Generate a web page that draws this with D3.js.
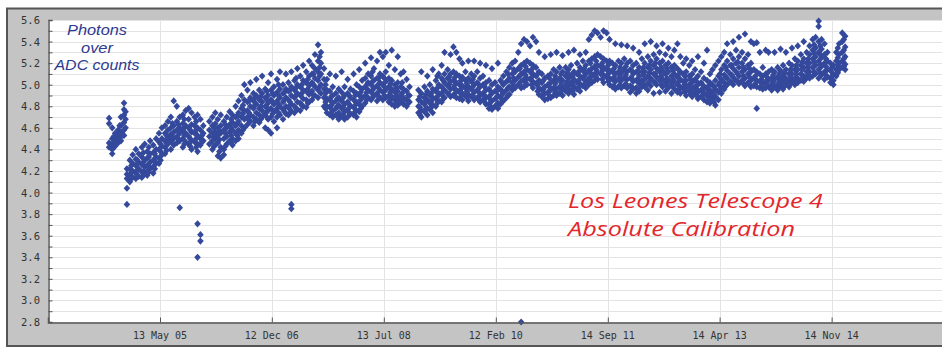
<!DOCTYPE html>
<html>
<head>
<meta charset="utf-8">
<script src="https://cdnjs.cloudflare.com/ajax/libs/d3/7.8.5/d3.min.js"></script>
<style>
  html, body { margin: 0; padding: 0; background: #ffffff; }
  svg { display: block; }
</style>
</head>
<body>
<svg id="chart" width="942" height="347"></svg>
<script>
// ---------------- DATA ----------------
const yTicks = [2.8, 3.0, 3.2, 3.4, 3.6, 3.8, 4.0, 4.2, 4.4, 4.6, 4.8, 5.0, 5.2, 5.4, 5.6];
const xTickDates = ["2005-05-13", "2006-12-12", "2008-07-13", "2010-02-12", "2011-09-14", "2013-04-14", "2014-11-14"];
const xDomain = ["2003-10-12", "2016-06-17"];
const noteLines = ["Photons", "over", "ADC counts"];
const titleLines = ["Los Leones Telescope 4", "Absolute Calibration"];

// [observation date, photons / ADC count values measured around that date]
const obs2004 = [
  ["2004-08-23", [4.69, 4.64, 4.46, 4.42]],
  ["2004-09-08", [4.60, 4.50, 4.45, 4.40, 4.36]],
  ["2004-09-23", [4.55, 4.50, 4.47, 4.43]],
  ["2004-10-08", [4.58, 4.52, 4.49, 4.46]],
  ["2004-10-23", [4.70, 4.62, 4.56, 4.52, 4.48]],
  ["2004-11-08", [4.83, 4.77, 4.72, 4.65, 4.58, 4.53]],
  ["2004-11-23", [4.22, 4.17, 4.13, 4.04, 3.89]],
  ["2004-12-08", [4.30, 4.22, 4.16, 4.12, 4.10]],
  ["2004-12-23", [4.35, 4.27, 4.20, 4.14]]
];
const obs2005 = [
  ["2005-01-08", [4.40, 4.31, 4.25, 4.18, 4.13]],
  ["2005-01-23", [4.36, 4.28, 4.22, 4.15]],
  ["2005-02-08", [4.42, 4.33, 4.26, 4.19, 4.14]],
  ["2005-02-23", [4.45, 4.30, 4.24, 4.17]],
  ["2005-03-08", [4.38, 4.32, 4.25, 4.20, 4.16]],
  ["2005-03-23", [4.48, 4.36, 4.28, 4.22]],
  ["2005-04-08", [4.44, 4.37, 4.30, 4.24, 4.18]],
  ["2005-04-23", [4.50, 4.40, 4.33, 4.27]],
  ["2005-05-08", [4.55, 4.47, 4.40, 4.32, 4.27]],
  ["2005-05-23", [4.60, 4.50, 4.43, 4.35]],
  ["2005-06-08", [4.62, 4.55, 4.48, 4.42, 4.36]],
  ["2005-06-23", [4.66, 4.58, 4.51, 4.45]],
  ["2005-07-08", [4.70, 4.60, 4.54, 4.48, 4.40]],
  ["2005-07-23", [4.85, 4.62, 4.56, 4.50, 4.44]],
  ["2005-08-08", [4.80, 4.66, 4.58, 4.52, 4.46]],
  ["2005-08-23", [4.70, 4.60, 4.55, 4.48, 3.86]],
  ["2005-09-08", [4.72, 4.64, 4.57, 4.50, 4.42]],
  ["2005-09-23", [4.76, 4.62, 4.55, 4.47]],
  ["2005-10-08", [4.78, 4.68, 4.60, 4.52, 4.45]],
  ["2005-10-23", [4.74, 4.63, 4.56, 4.48, 4.40]],
  ["2005-11-08", [4.70, 4.62, 4.55, 4.47]],
  ["2005-11-23", [4.72, 4.60, 4.53, 4.45, 4.38, 3.71, 3.40]],
  ["2005-12-08", [4.68, 4.58, 4.50, 4.44, 3.61, 3.55]],
  ["2005-12-23", [4.62, 4.55, 4.48]]
];
const obs2006 = [
  ["2006-01-23", [4.66, 4.58, 4.52, 4.45]],
  ["2006-02-08", [4.70, 4.62, 4.55, 4.48, 4.40]],
  ["2006-02-23", [4.74, 4.64, 4.56, 4.50, 4.44]],
  ["2006-03-08", [4.68, 4.60, 4.53, 4.46, 4.34]],
  ["2006-03-23", [4.72, 4.62, 4.55, 4.42, 4.32]],
  ["2006-04-08", [4.66, 4.58, 4.50, 4.40, 4.35]],
  ["2006-04-23", [4.70, 4.60, 4.52, 4.45]],
  ["2006-05-08", [4.75, 4.63, 4.56, 4.48]],
  ["2006-05-23", [4.72, 4.65, 4.58, 4.50, 4.44]],
  ["2006-06-08", [4.80, 4.70, 4.62, 4.55, 4.48]],
  ["2006-06-23", [4.85, 4.74, 4.66, 4.58, 4.50]],
  ["2006-07-08", [4.90, 4.78, 4.70, 4.62, 4.55]],
  ["2006-07-23", [5.00, 4.86, 4.76, 4.68, 4.60]],
  ["2006-08-08", [4.95, 4.84, 4.76, 4.70, 4.63]],
  ["2006-08-23", [5.02, 4.88, 4.80, 4.72, 4.66]],
  ["2006-09-08", [4.92, 4.85, 4.78, 4.70, 4.62]],
  ["2006-09-23", [5.05, 4.90, 4.82, 4.74, 4.68]],
  ["2006-10-08", [4.95, 4.86, 4.78, 4.72, 4.65]],
  ["2006-10-23", [5.08, 4.92, 4.84, 4.76, 4.70]],
  ["2006-11-08", [4.96, 4.88, 4.80, 4.73, 4.60]],
  ["2006-11-23", [5.02, 4.90, 4.83, 4.76, 4.68, 4.58]],
  ["2006-12-08", [5.10, 4.95, 4.86, 4.78, 4.70, 4.55]],
  ["2006-12-23", [4.98, 4.90, 4.82, 4.75, 4.66]]
];
const obs2007 = [
  ["2007-01-08", [5.05, 4.93, 4.85, 4.78, 4.70, 4.60]],
  ["2007-01-23", [5.12, 4.96, 4.88, 4.80, 4.72]],
  ["2007-02-08", [5.00, 4.92, 4.84, 4.77, 4.68]],
  ["2007-02-23", [5.10, 4.96, 4.88, 4.80, 4.73]],
  ["2007-03-08", [5.02, 4.94, 4.86, 4.79, 4.72]],
  ["2007-03-23", [5.12, 4.98, 4.90, 4.82, 4.75, 3.89, 3.85]],
  ["2007-04-08", [5.04, 4.95, 4.88, 4.80, 4.74]],
  ["2007-04-23", [5.15, 5.00, 4.92, 4.84, 4.77]],
  ["2007-05-08", [5.08, 4.98, 4.90, 4.83, 4.76]],
  ["2007-05-23", [5.18, 5.04, 4.95, 4.87, 4.80]],
  ["2007-06-08", [5.12, 5.02, 4.94, 4.86, 4.79]],
  ["2007-06-23", [5.22, 5.08, 4.99, 4.91, 4.84]],
  ["2007-07-08", [5.18, 5.10, 5.02, 4.94, 4.86]],
  ["2007-07-23", [5.28, 5.15, 5.06, 4.98, 4.90]],
  ["2007-08-08", [5.37, 5.22, 5.12, 5.04, 4.95, 4.88]],
  ["2007-08-23", [5.30, 5.20, 5.10, 5.00, 4.92]],
  ["2007-09-08", [5.15, 5.05, 4.96, 4.88, 4.80]],
  ["2007-09-23", [5.05, 4.95, 4.87, 4.80, 4.74]],
  ["2007-10-08", [5.10, 4.94, 4.86, 4.79, 4.72]],
  ["2007-10-23", [4.98, 4.90, 4.83, 4.76, 4.70]],
  ["2007-11-08", [5.08, 4.92, 4.85, 4.78, 4.72]],
  ["2007-11-23", [4.96, 4.88, 4.81, 4.74, 4.68]],
  ["2007-12-08", [5.12, 4.93, 4.85, 4.78, 4.71]],
  ["2007-12-23", [4.98, 4.90, 4.82, 4.75, 4.68]]
];
const obs2008 = [
  ["2008-01-08", [5.05, 4.92, 4.84, 4.77, 4.70]],
  ["2008-01-23", [4.96, 4.88, 4.80, 4.73]],
  ["2008-02-08", [5.10, 4.94, 4.86, 4.79, 4.72]],
  ["2008-02-23", [5.00, 4.92, 4.84, 4.76, 4.70]],
  ["2008-03-08", [5.14, 4.98, 4.90, 4.82, 4.75]],
  ["2008-03-23", [5.04, 4.96, 4.88, 4.80]],
  ["2008-04-08", [5.20, 5.06, 4.98, 4.90, 4.83]],
  ["2008-04-23", [5.10, 5.02, 4.95, 4.88]],
  ["2008-05-08", [5.25, 5.08, 5.00, 4.93, 4.86]],
  ["2008-05-23", [5.15, 5.04, 4.97, 4.90]],
  ["2008-06-08", [5.22, 5.06, 4.99, 4.92, 4.85]],
  ["2008-06-23", [5.30, 5.10, 5.02, 4.95, 4.88]],
  ["2008-07-08", [5.26, 5.08, 5.00, 4.93, 4.86]],
  ["2008-07-23", [5.30, 5.12, 5.03, 4.95, 4.88]],
  ["2008-08-08", [5.18, 5.06, 4.98, 4.90, 4.84]],
  ["2008-08-23", [5.32, 5.04, 4.96, 4.89, 4.82]],
  ["2008-09-08", [5.14, 5.00, 4.93, 4.86, 4.80]],
  ["2008-09-23", [5.26, 5.02, 4.94, 4.87, 4.81]],
  ["2008-10-08", [5.10, 4.98, 4.90, 4.84]],
  ["2008-10-23", [5.12, 4.96, 4.88, 4.82]],
  ["2008-11-08", [5.05, 4.94, 4.86, 4.80]],
  ["2008-11-23", [4.98, 4.90, 4.84]]
];
const obs2009 = [
  ["2009-01-08", [4.95, 4.86, 4.80, 4.74]],
  ["2009-01-23", [5.12, 4.92, 4.84, 4.76, 4.70]],
  ["2009-02-08", [4.98, 4.88, 4.82, 4.75]],
  ["2009-02-23", [5.08, 4.94, 4.86, 4.78, 4.72]],
  ["2009-03-08", [5.00, 4.90, 4.83, 4.77]],
  ["2009-03-23", [5.14, 4.96, 4.88, 4.81, 4.74]],
  ["2009-04-08", [5.04, 4.94, 4.87, 4.80]],
  ["2009-04-23", [5.10, 5.00, 4.92, 4.85]],
  ["2009-05-08", [5.18, 5.06, 4.98, 4.91, 4.84]],
  ["2009-05-23", [5.30, 5.10, 5.02, 4.95, 4.88]],
  ["2009-06-08", [5.14, 5.06, 4.99, 4.92]],
  ["2009-06-23", [5.28, 5.10, 5.03, 4.96, 4.89]],
  ["2009-07-08", [5.35, 5.12, 5.04, 4.97, 4.90]],
  ["2009-07-23", [5.30, 5.10, 5.02, 4.95, 4.88]],
  ["2009-08-08", [5.24, 5.08, 5.00, 4.93, 4.87]],
  ["2009-08-23", [5.20, 5.07, 4.99, 4.92, 4.86]],
  ["2009-09-08", [5.12, 5.04, 4.97, 4.90]],
  ["2009-09-23", [5.22, 5.06, 4.98, 4.91, 4.85]],
  ["2009-10-08", [5.10, 5.03, 4.96, 4.89]],
  ["2009-10-23", [5.22, 5.08, 5.00, 4.93, 4.86]],
  ["2009-11-08", [5.12, 5.02, 4.95, 4.88]],
  ["2009-11-23", [5.20, 5.06, 4.98, 4.90, 4.84]],
  ["2009-12-08", [5.08, 5.00, 4.92, 4.86]],
  ["2009-12-23", [5.18, 5.02, 4.95, 4.88, 4.82]]
];
const obs2010 = [
  ["2010-01-08", [5.04, 4.96, 4.89, 4.82, 4.78]],
  ["2010-01-23", [5.15, 5.00, 4.92, 4.85, 4.77]],
  ["2010-02-08", [5.02, 4.94, 4.87, 4.80]],
  ["2010-02-23", [5.20, 4.98, 4.90, 4.83, 4.78]],
  ["2010-03-08", [5.04, 4.96, 4.89, 4.82]],
  ["2010-03-23", [5.08, 5.00, 4.92, 4.85]],
  ["2010-04-08", [5.12, 5.03, 4.95, 4.88]],
  ["2010-04-23", [5.16, 5.06, 4.98, 4.91]],
  ["2010-05-08", [5.20, 5.10, 5.02, 4.95]],
  ["2010-05-23", [5.22, 5.12, 5.04, 4.97]],
  ["2010-06-08", [5.30, 5.15, 5.07, 5.00]],
  ["2010-06-23", [5.38, 5.18, 5.10, 5.03, 4.97, 2.80]],
  ["2010-07-08", [5.42, 5.20, 5.12, 5.05, 4.98]],
  ["2010-07-23", [5.40, 5.22, 5.14, 5.06, 5.00]],
  ["2010-08-08", [5.36, 5.20, 5.12, 5.05]],
  ["2010-08-23", [5.44, 5.18, 5.10, 5.03, 4.97]],
  ["2010-09-08", [5.40, 5.16, 5.08, 5.01]],
  ["2010-09-23", [5.30, 5.12, 5.04, 4.97, 4.91]],
  ["2010-10-08", [5.10, 5.02, 4.95, 4.89]],
  ["2010-10-23", [5.26, 5.06, 4.98, 4.92, 4.86]],
  ["2010-11-08", [5.08, 5.00, 4.93, 4.87]],
  ["2010-11-23", [5.28, 5.10, 5.02, 4.95, 4.88]],
  ["2010-12-08", [5.14, 5.04, 4.97, 4.90]],
  ["2010-12-23", [5.30, 5.12, 5.04, 4.96, 4.90]]
];
const obs2011 = [
  ["2011-01-08", [5.16, 5.06, 4.98, 4.92]],
  ["2011-01-23", [5.27, 5.12, 5.04, 4.97, 4.90]],
  ["2011-02-08", [5.16, 5.08, 5.00, 4.94]],
  ["2011-02-23", [5.30, 5.14, 5.06, 4.99, 4.92]],
  ["2011-03-08", [5.18, 5.09, 5.02, 4.95]],
  ["2011-03-23", [5.32, 5.12, 5.05, 4.98, 4.91]],
  ["2011-04-08", [5.20, 5.10, 5.02, 4.96]],
  ["2011-04-23", [5.28, 5.16, 5.08, 5.01, 4.94]],
  ["2011-05-08", [5.22, 5.13, 5.06, 4.99]],
  ["2011-05-23", [5.30, 5.18, 5.10, 5.03, 4.97]],
  ["2011-06-08", [5.42, 5.22, 5.13, 5.06, 5.00]],
  ["2011-06-23", [5.46, 5.24, 5.15, 5.08, 5.02]],
  ["2011-07-08", [5.50, 5.26, 5.17, 5.10, 5.04]],
  ["2011-07-23", [5.48, 5.28, 5.18, 5.11, 5.05]],
  ["2011-08-08", [5.44, 5.26, 5.17, 5.10]],
  ["2011-08-23", [5.50, 5.24, 5.16, 5.09, 5.02]],
  ["2011-09-08", [5.48, 5.22, 5.14, 5.07]],
  ["2011-09-23", [5.42, 5.22, 5.13, 5.06, 5.00]],
  ["2011-10-08", [5.20, 5.12, 5.05, 4.98]],
  ["2011-10-23", [5.38, 5.18, 5.10, 5.03, 4.96]],
  ["2011-11-08", [5.22, 5.12, 5.05, 4.98]],
  ["2011-11-23", [5.37, 5.20, 5.11, 5.04, 4.97]],
  ["2011-12-08", [5.24, 5.14, 5.06, 4.99]],
  ["2011-12-23", [5.36, 5.20, 5.12, 5.05, 4.97]]
];
const obs2012 = [
  ["2012-01-08", [5.22, 5.14, 5.06, 4.99, 4.93]],
  ["2012-01-23", [5.34, 5.18, 5.10, 5.03, 4.96]],
  ["2012-02-08", [5.20, 5.12, 5.04, 4.97, 4.92]],
  ["2012-02-23", [5.30, 5.16, 5.08, 5.01, 4.94]],
  ["2012-03-08", [5.24, 5.12, 5.04, 4.98]],
  ["2012-03-23", [5.38, 5.20, 5.12, 5.05, 4.98]],
  ["2012-04-08", [5.26, 5.16, 5.08, 5.01, 4.95]],
  ["2012-04-23", [5.40, 5.22, 5.14, 5.06, 4.99]],
  ["2012-05-08", [5.28, 5.18, 5.10, 5.03, 4.92]],
  ["2012-05-23", [5.36, 5.24, 5.15, 5.07, 5.00]],
  ["2012-06-08", [5.30, 5.20, 5.12, 5.04, 4.93]],
  ["2012-06-23", [5.38, 5.22, 5.13, 5.05, 4.98]],
  ["2012-07-08", [5.28, 5.18, 5.10, 5.02, 4.94]],
  ["2012-07-23", [5.34, 5.20, 5.12, 5.04, 4.97]],
  ["2012-08-08", [5.26, 5.16, 5.08, 5.01, 4.92]],
  ["2012-08-23", [5.32, 5.18, 5.10, 5.03, 4.96]],
  ["2012-09-08", [5.38, 5.15, 5.07, 5.00, 4.93]],
  ["2012-09-23", [5.26, 5.12, 5.05, 4.98, 4.92]],
  ["2012-10-08", [5.20, 5.10, 5.03, 4.96]],
  ["2012-10-23", [5.24, 5.12, 5.04, 4.97, 4.90]],
  ["2012-11-08", [5.18, 5.08, 5.00, 4.94]],
  ["2012-11-23", [5.22, 5.10, 5.02, 4.95, 4.89]],
  ["2012-12-08", [5.14, 5.05, 4.98, 4.92]],
  ["2012-12-23", [5.26, 5.08, 5.00, 4.93, 4.87]]
];
const obs2013 = [
  ["2013-01-08", [5.12, 5.02, 4.95, 4.89]],
  ["2013-01-23", [5.20, 5.06, 4.98, 4.92, 4.86]],
  ["2013-02-08", [5.32, 5.04, 4.96, 4.90, 4.84]],
  ["2013-02-23", [5.10, 5.02, 4.95, 4.89, 4.83]],
  ["2013-03-08", [5.14, 5.00, 4.93, 4.87]],
  ["2013-03-23", [5.18, 5.04, 4.96, 4.89, 4.81]],
  ["2013-04-08", [5.22, 5.08, 5.00, 4.93, 4.86]],
  ["2013-04-23", [5.26, 5.14, 5.05, 4.98, 4.92]],
  ["2013-05-08", [5.30, 5.18, 5.09, 5.02, 4.96]],
  ["2013-05-23", [5.38, 5.22, 5.13, 5.06, 5.00]],
  ["2013-06-08", [5.28, 5.18, 5.10, 5.03]],
  ["2013-06-23", [5.40, 5.24, 5.15, 5.07, 5.00]],
  ["2013-07-08", [5.32, 5.20, 5.12, 5.04]],
  ["2013-07-23", [5.44, 5.26, 5.16, 5.08, 5.01]],
  ["2013-08-08", [5.30, 5.20, 5.12, 5.04]],
  ["2013-08-23", [5.47, 5.24, 5.14, 5.06, 4.99]],
  ["2013-09-08", [5.28, 5.18, 5.10, 5.02]],
  ["2013-09-23", [5.40, 5.20, 5.12, 5.04, 4.98]],
  ["2013-10-08", [5.38, 5.14, 5.06, 4.99]],
  ["2013-10-23", [5.39, 5.12, 5.04, 4.98, 4.78]],
  ["2013-11-08", [5.30, 5.10, 5.03, 4.97]],
  ["2013-11-23", [5.16, 5.08, 5.01, 4.96]],
  ["2013-12-08", [5.32, 5.10, 5.03, 4.97]],
  ["2013-12-23", [5.30, 5.12, 5.04, 4.98]]
];
const obs2014 = [
  ["2014-01-08", [5.14, 5.06, 5.00, 4.95]],
  ["2014-01-23", [5.30, 5.12, 5.05, 4.98]],
  ["2014-02-08", [5.16, 5.07, 5.00, 4.95]],
  ["2014-02-23", [5.33, 5.13, 5.05, 4.99]],
  ["2014-03-08", [5.18, 5.08, 5.01, 4.96]],
  ["2014-03-23", [5.30, 5.14, 5.06, 5.00]],
  ["2014-04-08", [5.20, 5.10, 5.03, 4.98]],
  ["2014-04-23", [5.34, 5.18, 5.10, 5.03]],
  ["2014-05-08", [5.24, 5.14, 5.06, 5.00]],
  ["2014-05-23", [5.36, 5.22, 5.14, 5.06, 5.02]],
  ["2014-06-08", [5.28, 5.18, 5.10, 5.04]],
  ["2014-06-23", [5.40, 5.24, 5.16, 5.08, 5.03]],
  ["2014-07-08", [5.30, 5.20, 5.12, 5.06]],
  ["2014-07-23", [5.36, 5.28, 5.20, 5.12, 5.06]],
  ["2014-08-08", [5.42, 5.32, 5.24, 5.16, 5.08]],
  ["2014-08-23", [5.44, 5.34, 5.26, 5.18, 5.10]],
  ["2014-09-08", [5.59, 5.54, 5.40, 5.30, 5.22, 5.14, 5.06]],
  ["2014-09-23", [5.42, 5.33, 5.25, 5.17, 5.09]],
  ["2014-10-08", [5.38, 5.28, 5.20, 5.12, 5.05]],
  ["2014-10-23", [5.30, 5.22, 5.14, 5.07]],
  ["2014-11-08", [5.20, 5.13, 5.06, 5.02]],
  ["2014-11-23", [5.18, 5.10, 5.04, 5.00]],
  ["2014-12-08", [5.30, 5.22, 5.14, 5.08]],
  ["2014-12-23", [5.38, 5.28, 5.20, 5.14]]
];
const obs2015 = [
  ["2015-01-08", [5.48, 5.40, 5.30, 5.22, 5.16]],
  ["2015-01-23", [5.45, 5.35, 5.26, 5.19, 5.14]]
];
// mid-month runs, 2004-2009
const obsMidA = [
  ["2004-09-16", [4.42, 4.52]], ["2004-10-16", [4.50, 4.55, 4.62]], ["2004-11-16", [4.60, 4.68, 4.75]],
  ["2004-12-16", [4.15, 4.19, 4.25]], ["2005-01-16", [4.16, 4.21, 4.30]], ["2005-02-16", [4.20, 4.28, 4.37]],
  ["2005-03-16", [4.19, 4.24, 4.33, 4.42]], ["2005-04-16", [4.22, 4.29, 4.36]], ["2005-05-16", [4.30, 4.38, 4.45]],
  ["2005-06-16", [4.39, 4.46, 4.53]], ["2005-07-16", [4.46, 4.52, 4.64]], ["2005-08-16", [4.50, 4.57, 4.63]],
  ["2005-09-16", [4.45, 4.53, 4.60, 4.68]], ["2005-10-16", [4.43, 4.50, 4.58]], ["2005-11-16", [4.42, 4.50, 4.58, 4.66]],
  ["2005-12-16", [4.47, 4.53]], ["2006-02-16", [4.43, 4.51, 4.60]], ["2006-03-16", [4.38, 4.49, 4.57]],
  ["2006-04-16", [4.43, 4.55, 4.63]], ["2006-05-16", [4.46, 4.53, 4.60, 4.68]], ["2006-06-16", [4.53, 4.64, 4.71]],
  ["2006-07-16", [4.58, 4.73, 4.81]], ["2006-08-16", [4.67, 4.74, 4.85]], ["2006-09-16", [4.66, 4.81, 4.88]],
  ["2006-10-16", [4.68, 4.80, 4.89]], ["2006-11-16", [4.70, 4.79, 4.86, 4.94]], ["2006-12-16", [4.73, 4.84, 4.92]],
  ["2007-01-16", [4.74, 4.82, 4.90, 5.00]], ["2007-02-16", [4.75, 4.86, 4.93]], ["2007-03-16", [4.77, 4.84, 4.95]],
  ["2007-04-16", [4.78, 4.90, 4.97, 5.06]], ["2007-05-16", [4.81, 4.92, 5.00]], ["2007-06-16", [4.83, 4.96, 5.05]],
  ["2007-07-16", [4.90, 5.00, 5.10]], ["2007-08-16", [4.98, 5.08, 5.16, 5.26]], ["2007-09-16", [4.78, 4.84, 4.92, 5.00]],
  ["2007-10-16", [4.74, 4.81, 4.89]], ["2007-11-16", [4.71, 4.80, 4.87]], ["2007-12-16", [4.72, 4.79, 4.88]],
  ["2008-01-16", [4.74, 4.82, 4.90]], ["2008-02-16", [4.75, 4.81, 4.90]], ["2008-03-16", [4.78, 4.86, 4.93]],
  ["2008-04-16", [4.86, 4.93, 5.00]], ["2008-05-16", [4.88, 4.95, 5.03, 5.12]], ["2008-06-16", [4.89, 4.97, 5.06]],
  ["2008-07-16", [4.90, 4.98, 5.06]], ["2008-08-16", [4.86, 4.93, 5.01]], ["2008-09-16", [4.83, 4.90, 4.97]],
  ["2008-10-16", [4.85, 4.92, 5.02]], ["2008-11-16", [4.83, 4.90]],
  ["2009-01-16", [4.72, 4.79, 4.89]], ["2009-02-16", [4.78, 4.85, 4.91]], ["2009-03-16", [4.79, 4.85, 4.92]],
  ["2009-04-16", [4.83, 4.89, 4.97, 5.08]], ["2009-05-16", [4.87, 4.94, 5.04]], ["2009-06-16", [4.91, 5.00, 5.07]],
  ["2009-07-16", [4.92, 5.00, 5.07]], ["2009-08-16", [4.89, 4.96, 5.04]], ["2009-09-16", [4.88, 4.94, 5.01]],
  ["2009-10-16", [4.90, 4.98, 5.05]], ["2009-11-16", [4.86, 4.93, 5.00]], ["2009-12-16", [4.84, 4.90, 4.98]]
];
// mid-month runs, 2010-2015
const obsMidB = [
  ["2010-01-16", [4.80, 4.86, 4.94]], ["2010-02-16", [4.81, 4.88, 4.94]], ["2010-03-16", [4.86, 4.94, 5.02]],
  ["2010-04-16", [4.90, 4.97, 5.04, 5.10]], ["2010-05-16", [4.99, 5.06, 5.14]], ["2010-06-16", [5.00, 5.08, 5.15]],
  ["2010-07-16", [5.02, 5.09, 5.17]], ["2010-08-16", [5.00, 5.07, 5.14]], ["2010-09-16", [4.94, 5.00, 5.10]],
  ["2010-10-16", [4.88, 4.96, 5.04]], ["2010-11-16", [4.90, 4.98, 5.06]], ["2010-12-16", [4.93, 5.01, 5.08]],
  ["2011-01-16", [4.94, 5.02, 5.10]], ["2011-02-16", [4.96, 5.03, 5.11]], ["2011-03-16", [4.94, 5.00, 5.08]],
  ["2011-04-16", [4.97, 5.04, 5.12]], ["2011-05-16", [5.00, 5.08, 5.15]], ["2011-06-16", [5.04, 5.11, 5.20]],
  ["2011-07-16", [5.07, 5.14, 5.22]], ["2011-08-16", [5.05, 5.13, 5.20]], ["2011-09-16", [5.03, 5.10, 5.18]],
  ["2011-10-16", [4.99, 5.07, 5.15]], ["2011-11-16", [5.00, 5.08, 5.16]], ["2011-12-16", [5.01, 5.09, 5.17]],
  ["2012-01-16", [4.98, 5.06, 5.13]], ["2012-02-16", [4.96, 5.05, 5.12]], ["2012-03-16", [5.01, 5.09, 5.16]],
  ["2012-04-16", [5.03, 5.11, 5.18]], ["2012-05-16", [5.02, 5.10, 5.20]], ["2012-06-16", [5.00, 5.08, 5.16]],
  ["2012-07-16", [4.99, 5.06, 5.15]], ["2012-08-16", [4.98, 5.05, 5.13]], ["2012-09-16", [4.96, 5.03, 5.10]],
  ["2012-10-16", [4.93, 5.00, 5.08]], ["2012-11-16", [4.91, 4.98, 5.05]], ["2012-12-16", [4.90, 4.96, 5.03]],
  ["2013-01-16", [4.88, 4.94, 5.00]], ["2013-02-16", [4.86, 4.92, 4.99]], ["2013-03-16", [4.84, 4.91, 4.98]],
  ["2013-04-16", [4.95, 5.02, 5.10]], ["2013-05-16", [4.99, 5.07, 5.16]], ["2013-06-16", [5.02, 5.09, 5.18]],
  ["2013-07-16", [5.03, 5.10, 5.21]], ["2013-08-16", [5.01, 5.08, 5.16]], ["2013-09-16", [5.00, 5.07, 5.15]],
  ["2013-10-16", [5.01, 5.08]], ["2013-11-16", [4.99, 5.05]], ["2013-12-16", [5.00, 5.07]],
  ["2014-01-16", [4.97, 5.02, 5.09]], ["2014-02-16", [4.98, 5.03, 5.10]], ["2014-03-16", [4.99, 5.04, 5.11]],
  ["2014-04-16", [5.01, 5.07, 5.14]], ["2014-05-16", [5.03, 5.10, 5.18]], ["2014-06-16", [5.05, 5.14, 5.21]],
  ["2014-07-16", [5.09, 5.16, 5.24]], ["2014-08-16", [5.12, 5.21, 5.29, 5.37]], ["2014-09-16", [5.11, 5.19, 5.28, 5.36]],
  ["2014-10-16", [5.09, 5.17, 5.24]], ["2014-11-16", [5.03, 5.08, 5.16]], ["2014-12-16", [5.11, 5.18, 5.25, 5.34]],
  ["2015-01-16", [5.17, 5.24, 5.32, 5.42]]
];

// ---------------- CHART ----------------
const W = 942, H = 347;
const plot = { left: 48, top: 20, right: 944, bottom: 322 };
const parse = d3.timeParse("%Y-%m-%d");

const points = [];
[obs2004, obs2005, obs2006, obs2007, obs2008, obs2009, obs2010,
 obs2011, obs2012, obs2013, obs2014, obs2015, obsMidA, obsMidB].forEach(set => {
  set.forEach(([d, vals]) => vals.forEach(v => points.push({ date: parse(d), value: v })));
});

const x = d3.scaleTime().domain(xDomain.map(parse)).range([plot.left, plot.right]);
const y = d3.scaleLinear().domain([2.8, 5.6]).range([plot.bottom, plot.top]);

const svg = d3.select("#chart");

// outer gray frame
svg.append("rect").attr("x", 7).attr("y", 8.5).attr("width", W).attr("height", 337.5)
  .attr("fill", "#c4c4c4").attr("stroke", "#555555").attr("stroke-width", 2);

// plot background
svg.append("rect").attr("x", plot.left).attr("y", plot.top)
  .attr("width", plot.right - plot.left).attr("height", plot.bottom - plot.top)
  .attr("fill", "#ffffff");

// horizontal grid every 0.1
const minorY = d3.range(28, 57).map(k => k / 10);
svg.append("g").selectAll("line").data(minorY).join("line")
  .attr("x1", plot.left).attr("x2", plot.right)
  .attr("y1", d => Math.round(y(d)) + 0.5).attr("y2", d => Math.round(y(d)) + 0.5)
  .attr("stroke", "#e3e3e3").attr("stroke-width", 1);

// vertical grid at x ticks
const tickDates = xTickDates.map(parse);
svg.append("g").selectAll("line").data(tickDates).join("line")
  .attr("x1", d => Math.round(x(d)) + 0.5).attr("x2", d => Math.round(x(d)) + 0.5)
  .attr("y1", plot.top).attr("y2", plot.bottom)
  .attr("stroke", "#e3e3e3").attr("stroke-width", 1);

// data points (diamonds)
const diamond = "M0,-3.6L3.3,0L0,3.6L-3.3,0Z";
svg.append("g").selectAll("path").data(points).join("path")
  .attr("d", diamond)
  .attr("transform", d => `translate(${x(d.date)},${y(d.value)})`)
  .attr("fill", "#34499c");

// y axis
const yAxis = d3.axisRight(y).tickValues(minorY).tickSize(4).tickFormat("");
const gy = svg.append("g").attr("transform", `translate(${plot.left + 0.5},0)`).call(yAxis);
gy.select(".domain").attr("stroke", "#555").attr("stroke-width", 1.5);
gy.selectAll(".tick line").attr("stroke", "#555");

svg.append("g").selectAll("text").data(yTicks).join("text")
  .attr("x", 40).attr("y", d => y(d) + 4)
  .attr("text-anchor", "end")
  .attr("font-family", "DejaVu Sans Mono, monospace").attr("font-size", 10.5)
  .attr("fill", "#333").text(d => d.toFixed(1));

// x axis
const xAxis = d3.axisTop(x).tickValues(tickDates).tickSize(5).tickFormat("");
const gx = svg.append("g").attr("transform", `translate(0,${plot.bottom + 0.5})`).call(xAxis);
gx.select(".domain").attr("stroke", "#555").attr("stroke-width", 1.5);
gx.selectAll(".tick line").attr("stroke", "#555");

const fmt = d3.timeFormat("%d %b %y");
svg.append("g").selectAll("text").data(tickDates).join("text")
  .attr("x", d => x(d)).attr("y", 339)
  .attr("text-anchor", "middle")
  .attr("font-family", "DejaVu Sans Mono, monospace").attr("font-size", 10)
  .attr("fill", "#333").text(d => fmt(d));

// annotations
const noteWidths = [60, 32, 85];
svg.append("g").selectAll("text").data(noteLines).join("text")
  .attr("x", 97).attr("y", (d, i) => 35 + i * 17.5)
  .attr("text-anchor", "middle")
  .attr("textLength", (d, i) => noteWidths[i]).attr("lengthAdjust", "spacingAndGlyphs")
  .attr("font-family", "Liberation Sans, Arial, sans-serif").attr("font-style", "italic")
  .attr("font-size", 14.5).attr("fill", "#2e3a8f").text(d => d);

const titleWidths = [255, 227];
svg.append("g").selectAll("text").data(titleLines).join("text")
  .attr("x", 568).attr("y", (d, i) => 208 + i * 28)
  .attr("textLength", (d, i) => titleWidths[i]).attr("lengthAdjust", "spacingAndGlyphs")
  .attr("font-family", "Open Sans, sans-serif").attr("font-style", "italic")
  .attr("font-size", 20).attr("fill", "#e3262b").text(d => d);
</script>
</body>
</html>
